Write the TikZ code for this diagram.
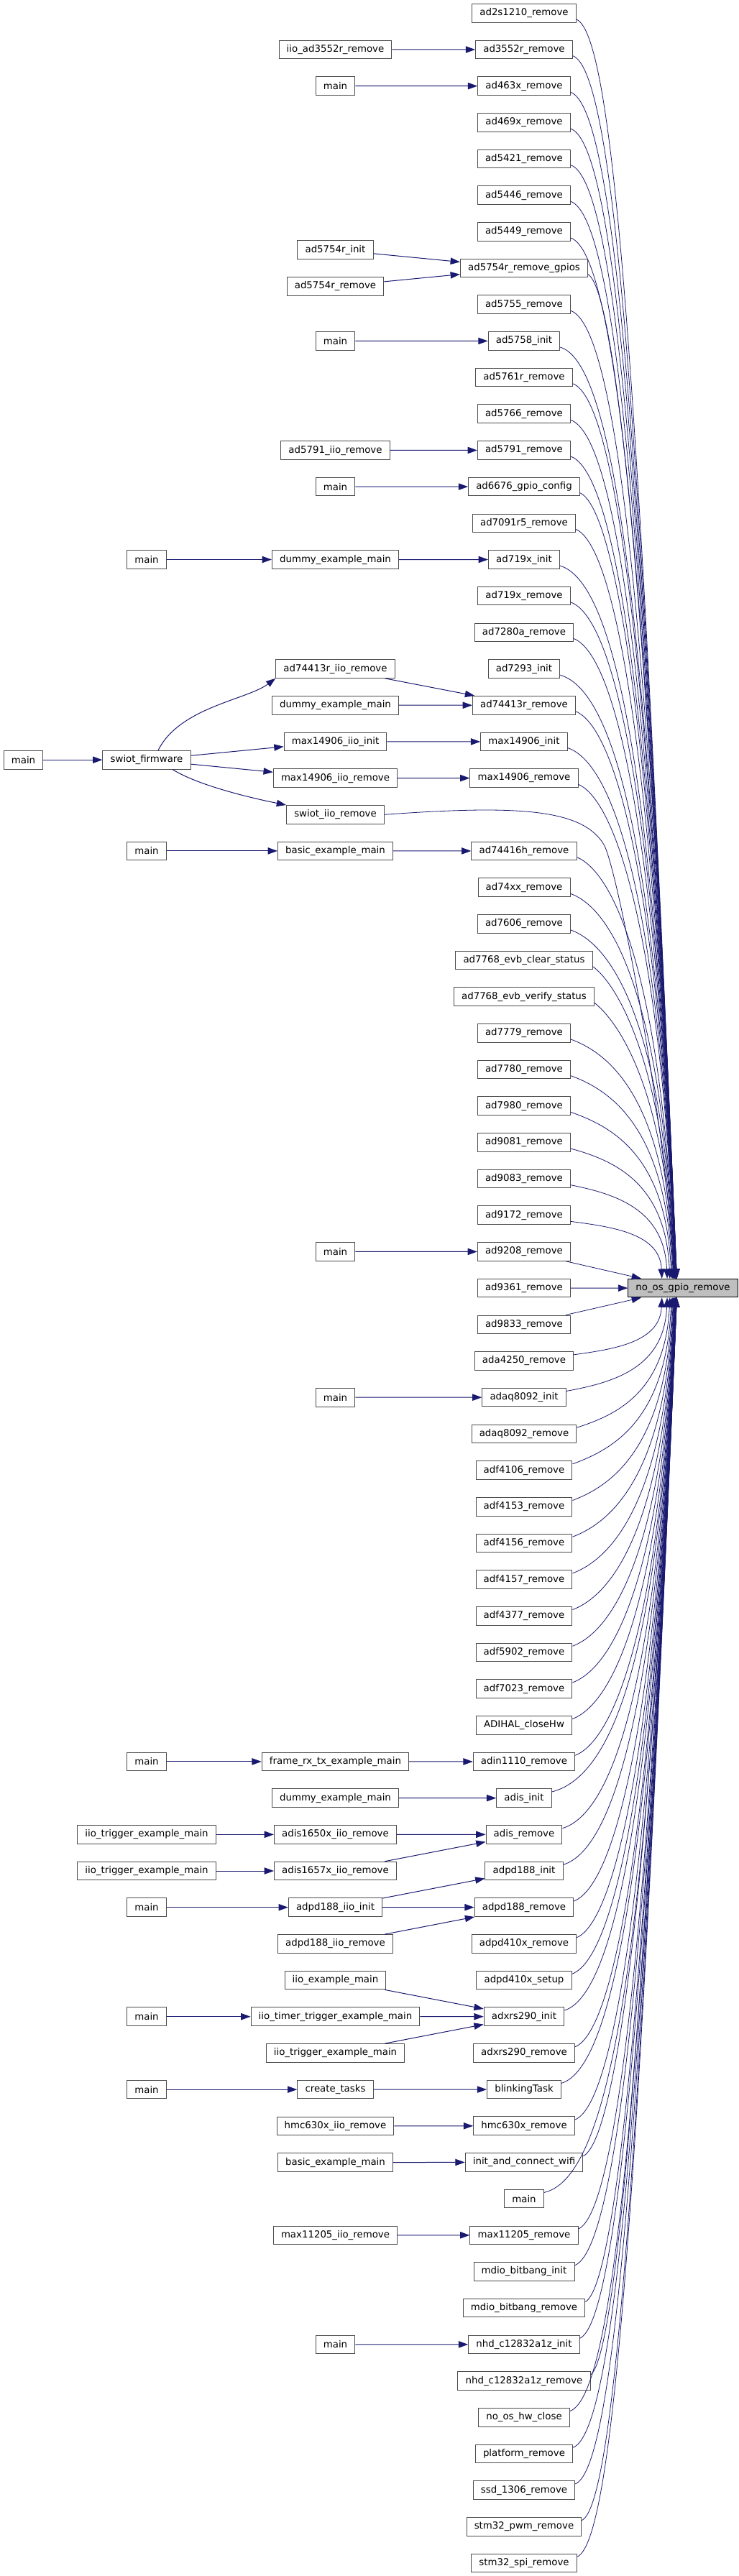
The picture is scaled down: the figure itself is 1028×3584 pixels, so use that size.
\documentclass[tikz,border=0pt]{standalone}
\usepackage{fontspec}
\setmainfont{DejaVu Sans}
\usetikzlibrary{arrows.meta}
\usetikzlibrary{calc}
\definecolor{MidnightBlue}{HTML}{191970}

\begin{document}
\begin{tikzpicture}[
            x=0.75pt, y=-0.75pt,
            fnnode/.style={draw=black!70, fill=white, line width=0.75pt, inner xsep=8pt, inner ysep=0pt, minimum height=19.2pt, font=\fontsize{10pt}{12pt}\selectfont},
            focusnode/.style={fnnode, draw=black, fill=black!25},
            calledge/.style={color=MidnightBlue, line width=0.75pt, -{Triangle[length=10pt, width=7pt]}},
            hubedge/.style={calledge, line width=0.6pt}
        ]
            \useasboundingbox (0, 0) rectangle (1028, 3584);

            % function that is called
            \node[focusnode] (gpio) at (950, 1792.1) {no\_os\_gpio\_remove};

            % direct callers (right column)
            \foreach \k/\txt in {1/ad2s1210\_remove, 2/ad3552r\_remove, 3/ad463x\_remove, 4/ad469x\_remove,
                5/ad5421\_remove, 6/ad5446\_remove, 7/ad5449\_remove, 8/ad5754r\_remove\_gpios,
                9/ad5755\_remove, 10/ad5758\_init, 11/ad5761r\_remove, 12/ad5766\_remove,
                13/ad5791\_remove, 14/ad6676\_gpio\_config, 15/ad7091r5\_remove, 16/ad719x\_init,
                17/ad719x\_remove, 18/ad7280a\_remove, 19/ad7293\_init, 20/ad74413r\_remove,
                21/max14906\_init, 22/max14906\_remove, 24/ad74416h\_remove, 25/ad74xx\_remove,
                26/ad7606\_remove, 27/ad7768\_evb\_clear\_status, 28/ad7768\_evb\_verify\_status,
                29/ad7779\_remove, 30/ad7780\_remove, 31/ad7980\_remove, 32/ad9081\_remove,
                33/ad9083\_remove, 34/ad9172\_remove, 35/ad9208\_remove, 36/ad9361\_remove,
                37/ad9833\_remove, 38/ada4250\_remove, 39/adaq8092\_init, 40/adaq8092\_remove,
                41/adf4106\_remove, 42/adf4153\_remove, 43/adf4156\_remove, 44/adf4157\_remove,
                45/adf4377\_remove, 46/adf5902\_remove, 47/adf7023\_remove, 48/ADIHAL\_closeHw,
                49/adin1110\_remove, 50/adis\_init, 51/adis\_remove, 52/adpd188\_init,
                53/adpd188\_remove, 54/adpd410x\_remove, 55/adpd410x\_setup, 56/adxrs290\_init,
                57/adxrs290\_remove, 58/blinkingTask, 59/hmc630x\_remove, 60/init\_and\_connect\_wifi,
                61/main, 62/max11205\_remove, 63/mdio\_bitbang\_init, 64/mdio\_bitbang\_remove,
                65/nhd\_c12832a1z\_init, 66/nhd\_c12832a1z\_remove, 67/no\_os\_hw\_close,
                68/platform\_remove, 69/ssd\_1306\_remove, 70/stm32\_pwm\_remove, 71/stm32\_spi\_remove}{
                \node[fnnode] (r\k) at (729, {18.3+50.68*(\k-1)}) {\txt};
            }

            % second level callers
            \node[fnnode] (iioad) at (466.5, 69.0) {iio\_ad3552r\_remove};
            \node[fnnode] (mainA) at (466.5, 119.7) {main};
            \node[fnnode] (adinit) at (466.5, 347.7) {ad5754r\_init};
            \node[fnnode] (adrem) at (466.5, 398.4) {ad5754r\_remove};
            \node[fnnode] (mainB) at (466.5, 474.4) {main};
            \node[fnnode] (ad5791iio) at (466.5, 626.5) {ad5791\_iio\_remove};
            \node[fnnode] (mainC) at (466.5, 677.1) {main};
            \node[fnnode] (dummyA) at (466.5, 778.5) {dummy\_example\_main};
            \node[fnnode] (adiio) at (466.5, 930.5) {ad74413r\_iio\_remove};
            \node[fnnode] (dummyB) at (466.5, 981.2) {dummy\_example\_main};
            \node[fnnode] (maxiioinit) at (466.5, 1031.9) {max14906\_iio\_init};
            \node[fnnode] (maxiiorem) at (466.5, 1082.6) {max14906\_iio\_remove};
            \node[fnnode] (swiotiio) at (466.5, 1133.3) {swiot\_iio\_remove};
            \node[fnnode] (basicA) at (466.5, 1183.9) {basic\_example\_main};
            \node[fnnode] (mainG) at (466.5, 1741.4) {main};
            \node[fnnode] (mainH) at (466.5, 1944.2) {main};
            \node[fnnode] (framerxtx) at (466.5, 2450.9) {frame\_rx\_tx\_example\_main};
            \node[fnnode] (dummyC) at (466.5, 2501.6) {dummy\_example\_main};
            \node[fnnode] (adis50) at (466.5, 2552.3) {adis1650x\_iio\_remove};
            \node[fnnode] (adis57) at (466.5, 2603.0) {adis1657x\_iio\_remove};
            \node[fnnode] (adpdiioinit) at (466.5, 2653.7) {adpd188\_iio\_init};
            \node[fnnode] (adpdiiorem) at (466.5, 2704.4) {adpd188\_iio\_remove};
            \node[fnnode] (iioexample) at (466.5, 2755.1) {iio\_example\_main};
            \node[fnnode] (iiotimer) at (466.5, 2805.7) {iio\_timer\_trigger\_example\_main};
            \node[fnnode] (iiotrigC) at (466.5, 2856.4) {iio\_trigger\_example\_main};
            \node[fnnode] (tasks) at (466.5, 2907.1) {create\_tasks};
            \node[fnnode] (hmciio) at (466.5, 2957.8) {hmc630x\_iio\_remove};
            \node[fnnode] (basicB) at (466.5, 3008.5) {basic\_example\_main};
            \node[fnnode] (maxadc) at (466.5, 3109.8) {max11205\_iio\_remove};
            \node[fnnode] (mainM) at (466.5, 3261.9) {main};

            % third and fourth level callers
            \node[fnnode] (mainD) at (204, 778.5) {main};
            \node[fnnode] (swiotfw) at (204, 1057.2) {swiot\_firmware};
            \node[fnnode] (mainE) at (32.5, 1057.2) {main};
            \node[fnnode] (mainF) at (204, 1183.9) {main};
            \node[fnnode] (mainI) at (204, 2450.9) {main};
            \node[fnnode] (iiotrigA) at (204, 2552.3) {iio\_trigger\_example\_main};
            \node[fnnode] (iiotrigB) at (204, 2603.0) {iio\_trigger\_example\_main};
            \node[fnnode] (mainJ) at (204, 2653.7) {main};
            \node[fnnode] (mainK) at (204, 2805.7) {main};
            \node[fnnode] (mainL) at (204, 2907.1) {main};

            % calls between the callers
            \foreach \a/\b in {iioad/r2, mainA/r3, adinit/r8, adrem/r8, mainB/r10, ad5791iio/r13,
                mainC/r14, mainD/dummyA, dummyA/r16, adiio/r20, dummyB/r20, maxiioinit/r21,
                maxiiorem/r22, mainE/swiotfw, swiotfw/maxiioinit, swiotfw/maxiiorem, mainF/basicA,
                basicA/r24, mainG/r35, mainH/r39, mainI/framerxtx, framerxtx/r49, dummyC/r50,
                iiotrigA/adis50, adis50/r51, iiotrigB/adis57, adis57/r51, mainJ/adpdiioinit,
                adpdiioinit/r52, adpdiioinit/r53, adpdiiorem/r53, iioexample/r56, mainK/iiotimer,
                iiotimer/r56, iiotrigC/r56, mainL/tasks, tasks/r58, hmciio/r59, basicB/r60,
                maxadc/r62, mainM/r65}{
                \draw[calledge] (\a) -- (\b);
            }
            \draw[calledge] ([xshift=12pt]swiotfw.north) .. controls +(30, -60) and +(-40, 30) .. (adiio.south west);
            \draw[calledge] ([xshift=27pt]swiotfw.south) .. controls +(35, 22) and +(-50, -10) .. (swiotiio.north west);

            % edges into no_os_gpio_remove
            \foreach \k in {35, 36, 37}{
                \draw[hubedge] (r\k) -- (gpio);
            }
            \draw[hubedge] (swiotiio.east) .. controls (720, 1120) and (810, 1125) .. (840, 1175)
                .. controls (858, 1205) and (925, 1550) .. ($(gpio.north west)+(64.5, 0)$);
            \foreach \k in {1,...,22,24,25,26,27,28,29,30,31,32,33,34}{
                \pgfmathsetmacro{\ex}{943-44/(36-\k)-873.5}
                \pgfmathsetmacro{\dy}{1779-(18.3+50.68*(\k-1))}
                \pgfmathsetmacro{\cy}{18.3+50.68*(\k-1)+8.7+22*min(1,\dy/250)}
                \draw[hubedge] ([yshift=-6.5pt]r\k.east) .. controls (855, \cy) and +({-0.03*\dy}, {-0.7*\dy}) .. ($(gpio.north west)+(\ex, 0)$);
            }
            \foreach \k in {38,...,71}{
                \pgfmathsetmacro{\ex}{943-44/(\k-36)-873.5}
                \pgfmathsetmacro{\dy}{(18.3+50.68*(\k-1))-1805}
                \pgfmathsetmacro{\cy}{18.3+50.68*(\k-1)-8.7-22*min(1,\dy/250)}
                \draw[hubedge] ([yshift=6.5pt]r\k.east) .. controls (855, \cy) and +({-0.03*\dy}, {0.7*\dy}) .. ($(gpio.south west)+(\ex, 0)$);
            }

        \end{tikzpicture}
\end{document}
